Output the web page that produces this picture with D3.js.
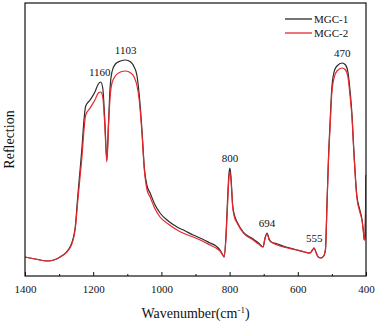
<!DOCTYPE html>
<html><head><meta charset="utf-8">
<script src="https://cdn.jsdelivr.net/npm/d3@7"></script>
<style>body{margin:0;background:#fff}svg{display:block}svg text{font-family:"Liberation Serif","Times New Roman",serif !important;fill:#111}</style>
</head><body><svg id="c" width="379" height="322"></svg>
<script>
// wavenumbers (cm-1)
const wavenumbers = [1400,1370,1333,1297,1268,1253,1245,1238,1233,1227,1222,1209,1195,1185,1178,1172,1166,1160,1155,1150,1145,1135,1120,1105,1090,1080,1072,1065,1057,1050,1042,1033,1020,1004,980,954,930,907,880,857,840,828,820,816,811,806,802,799,796,791,785,778,760,731,715,702,696,690,684,678,660,643,602,580,564,557,552,547,540,532,524,519,514,510,505,500,492,485,470,460,453,447,441,436,427,418,412,408,405,403,400];
// reflection (arbitrary units)
const mgc2 = [19,17,15,19,28,46,76,101,119,146,161,168,176,183,184,179,151,114,151,181,193,200,204,205,203,199,191,176,143,106,86,79,68,59,52,46,42,39,35,31,28,25,21,19,36,71,98,104,96,69,58,53,43,36,32,29,38,42,36,34,31,29,26,24,23,26,28,24,19,18,20,26,76,116,151,184,200,205,208,206,199,181,158,126,79,64,56,46,36,38,101];
const mgc1 = [19,17,15,19,29,48,81,108,128,156,170,176,184,192,194,188,156,116,154,191,204,212,215,216,214,209,201,181,146,108,90,83,72,63,55,49,45,41,37,33,30,26,21,19,38,76,102,108,99,71,60,54,44,37,33,29,38,43,37,34,32,30,26,24,23,26,28,24,19,18,20,26,76,118,156,189,206,210,213,211,204,186,161,128,81,66,57,46,36,38,101];
const series = [{name:"MGC-1", values:mgc1, color:"#2b2b2b"},{name:"MGC-2", values:mgc2, color:"#e8262a"}];
const xTicks = [1400,1200,1000,800,600,400];
const minorTicks = [1300,1100,900,700,500];
const peaks = [{label:"1160", w:1178}, {label:"1103", w:1105}, {label:"800", w:799}, {label:"694", w:690}, {label:"555", w:552}, {label:"470", w:470}];

const FONT = '"Liberation Serif","Times New Roman",serif';
const svg = d3.select("#c");
const m = {l:25, t:3, r:366, b:276};
const x = d3.scaleLinear().domain([1400,400]).range([m.l, m.r]);
const y = d3.scaleLinear().domain([0,273]).range([m.b, m.t]);

const g = svg.append("g");
svg.append("clipPath").attr("id","cp").append("rect")
  .attr("x",m.l).attr("y",m.t).attr("width",m.r-m.l).attr("height",m.b-m.t);

const line = d3.line().x(d=>x(d[0])).y(d=>y(d[1])).curve(d3.curveMonotoneX);
series.forEach(s=>{
  g.append("path").datum(wavenumbers.map((w,i)=>[w,s.values[i]]))
    .attr("d", line).attr("fill","none").attr("stroke", s.color)
    .attr("stroke-width",1.2).attr("clip-path","url(#cp)");
});

// frame
svg.append("rect").attr("x",m.l).attr("y",m.t).attr("width",m.r-m.l).attr("height",m.b-m.t)
  .attr("fill","none").attr("stroke","#111").attr("stroke-width",1.2);

// bottom axis
const ax = svg.append("g").attr("transform",`translate(0,${m.b})`)
  .call(d3.axisBottom(x).tickValues(xTicks).tickSize(-4).tickPadding(9).tickFormat(d3.format("d")));
ax.attr("font-family", FONT);
ax.select(".domain").remove();
ax.selectAll("line").attr("stroke","#111");
ax.selectAll("text").attr("font-size","11px").attr("font-family",FONT).attr("fill","#111");
const axm = svg.append("g").attr("transform",`translate(0,${m.b})`)
  .call(d3.axisBottom(x).tickValues(minorTicks).tickSize(-2).tickFormat(""));
axm.select(".domain").remove();
axm.selectAll("line").attr("stroke","#111");

// titles
svg.append("text").attr("x",(m.l+m.r)/2).attr("y",318).attr("text-anchor","middle").attr("font-size","14px").attr("font-family",FONT)
  .html('Wavenumber(cm<tspan dy="-5" font-size="9px">-1</tspan><tspan dy="5">)</tspan>');
svg.append("text").attr("transform",`translate(14,${(m.t+m.b)/2}) rotate(-90)`).attr("text-anchor","middle")
  .attr("font-size","14px").attr("font-family",FONT).text("Reflection");

// peak labels
peaks.forEach(p=>{
  const i = wavenumbers.indexOf(p.w);
  const v = Math.max(mgc1[i], mgc2[i]);
  svg.append("text").attr("x", x(p.w) + (p.label==="1160"? -1 : 0)).attr("y", y(v)-6)
    .attr("text-anchor","middle").attr("font-size","11px").attr("font-family",FONT).text(p.label);
});

// legend
series.forEach((s,i)=>{
  const yy = 19 + i*14;
  svg.append("line").attr("x1",285).attr("x2",312).attr("y1",yy).attr("y2",yy).attr("stroke",s.color).attr("stroke-width",1.3);
  svg.append("text").attr("x",314).attr("y",yy+4).attr("font-size","11px").attr("font-family",FONT).text(s.name);
});
</script></body></html>
